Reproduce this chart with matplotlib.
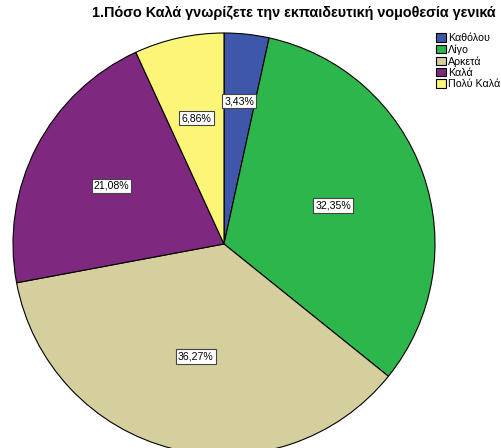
import numpy as np
import matplotlib.pyplot as plt

plt.rcParams['font.family'] = ['Liberation Sans', 'DejaVu Sans']

# Data
categorias = ['Καθόλου', 'Λίγο', 'Αρκετά', 'Καλά', 'Πολύ Καλά']
porcentajes = [3.43, 32.35, 36.27, 21.08, 6.86]
colores = ['#3e57ab', '#2db64b', '#d4cf9c', '#7e287f', '#fbf678']
titulo = '1.Πόσο Καλά γνωρίζετε την εκπαιδευτική νομοθεσία γενικά'

fig = plt.figure(figsize=(5.02, 4.48), dpi=100)
ax = fig.add_axes([13/502, -7/448, 422/502, 422/448])

wedges, _ = ax.pie(porcentajes, colors=colores, startangle=90, counterclock=False,
                   wedgeprops=dict(edgecolor='black', linewidth=0.8))
ax.set_xlim(-1, 1)
ax.set_ylim(-1, 1)
ax.set_aspect('equal')
ax.axis('off')

# etiquetas con porcentaje
dist = [0.68, 0.55, 0.55, 0.6, 0.61]
for w, p, d in zip(wedges, porcentajes, dist):
    ang = np.deg2rad((w.theta1 + w.theta2) / 2)
    ax.text(d*np.cos(ang), d*np.sin(ang), f'{p:.2f}%'.replace('.', ','),
            ha='center', va='center', fontsize=7.6,
            bbox=dict(boxstyle='square,pad=0.2', fc='white', ec='#444444', lw=0.8))

fig.text(294/502, 1 - 13/448, titulo, ha='center', va='center',
         fontsize=10.4, fontweight='bold')

fig.legend(wedges, categorias, loc='upper left', bbox_to_anchor=(436/502, 1 - 33/448),
           frameon=False, fontsize=7.7, handlelength=0.9, handleheight=0.85,
           handletextpad=0.25, labelspacing=0.12, borderaxespad=0, borderpad=0)

fig.savefig('out.png', dpi=100)
